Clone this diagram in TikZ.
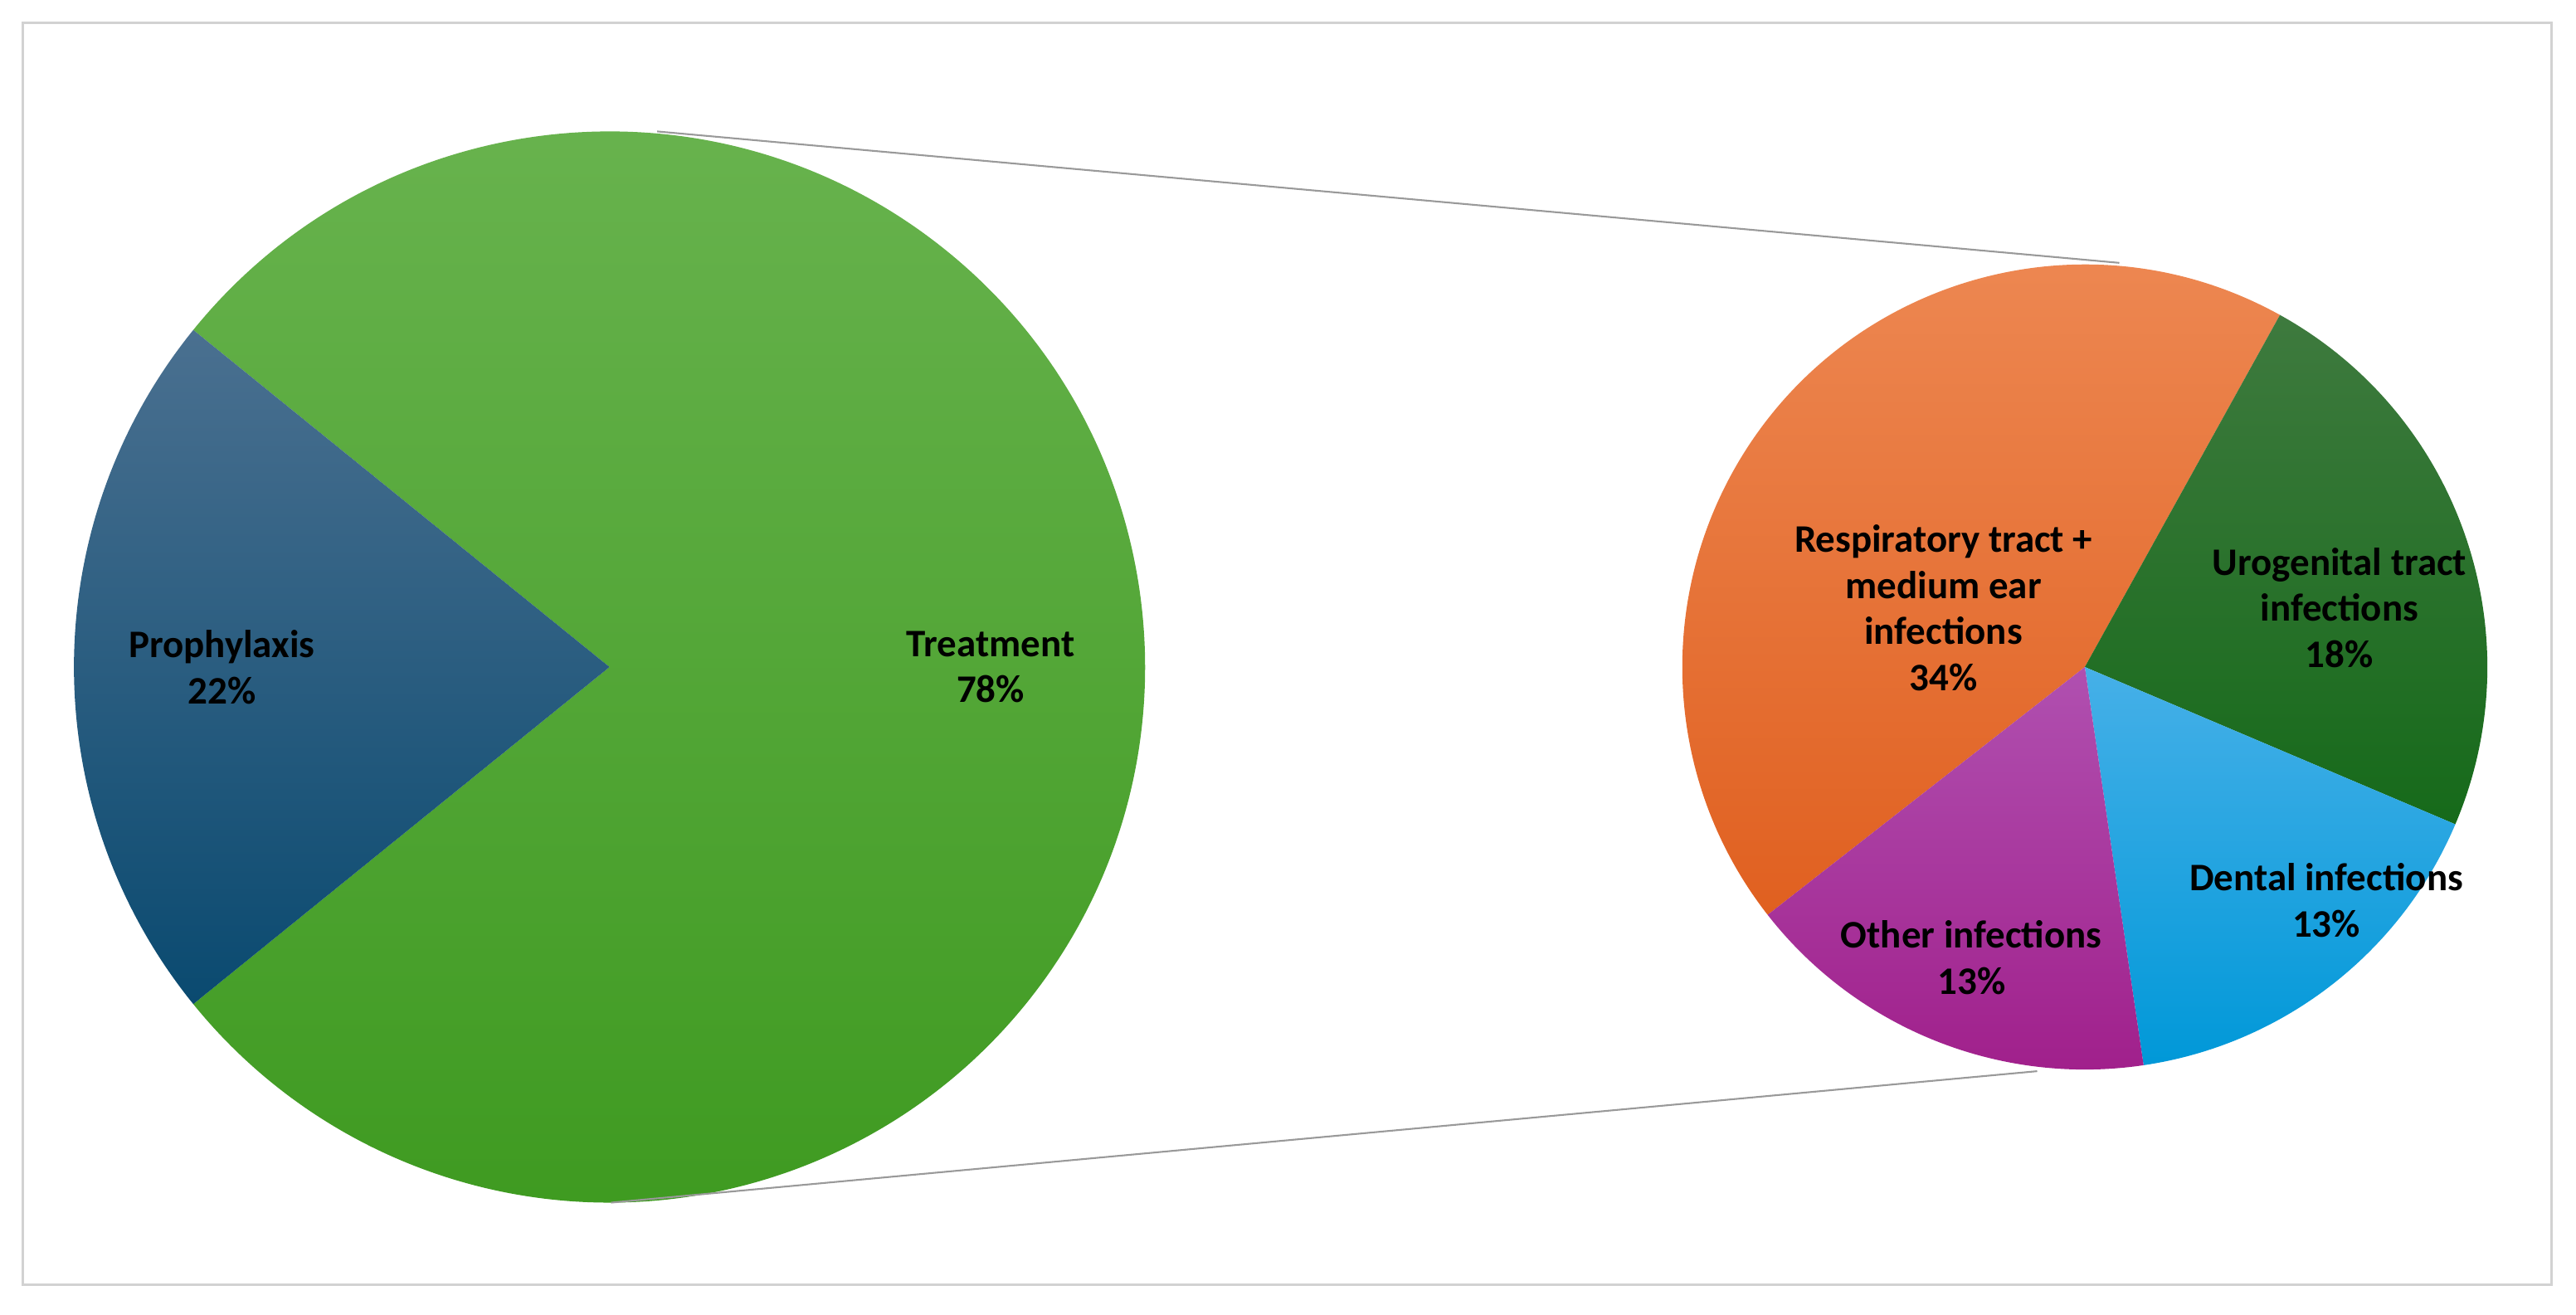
\documentclass[tikz,border=0pt]{standalone}
\usepackage{fontspec}
\setmainfont{Carlito}
\begin{document}
\begin{tikzpicture}[x=0.02cm,y=-0.02cm,
  lbl/.style={font=\fontsize{13.5}{16}\selectfont\bfseries,align=center,text=black},
  conn/.style={draw=gray!80,line width=0.6pt}]
\useasboundingbox (0,0) rectangle (1568,800);
\draw[draw=gray!35,line width=0.8pt] (14,14) rectangle (1553,782);
% left pie
\coordinate (lc) at (371,406);
\shade[top color={rgb,255:red,106;green,180;blue,80}, bottom color={rgb,255:red,62;green,154;blue,32}]
  (lc) -- ++(-141:326) arc[start angle=-141,end angle=141,radius=326] -- cycle;
\shade[top color={rgb,255:red,74;green,112;blue,144}, bottom color={rgb,255:red,10;green,74;blue,112}]
  (lc) -- ++(-141:326) arc[start angle=-141,end angle=-219,radius=326] -- cycle;
\node[lbl] (pro) at (135,406) {Prophylaxis\\22\%};
\node[lbl] (tre) at (603,406) {Treatment\\78\%};
% right pie
\coordinate (rc) at (1269,406);
\def\R{245}
\shade[top color={rgb,255:red,238;green,138;blue,85}, bottom color={rgb,255:red,224;green,96;blue,32}]
  (rc) -- ++(-61:\R) arc[start angle=-61,end angle=-218,radius=\R] -- cycle;
\shade[top color={rgb,255:red,62;green,122;blue,62}, bottom color={rgb,255:red,22;green,106;blue,26}]
  (rc) -- ++(-61:\R) arc[start angle=-61,end angle=23,radius=\R] -- cycle;
\shade[top color={rgb,255:red,70;green,176;blue,232}, bottom color={rgb,255:red,0;green,152;blue,216}]
  (rc) -- ++(23:\R) arc[start angle=23,end angle=81.6,radius=\R] -- cycle;
\shade[top color={rgb,255:red,176;green,80;blue,176}, bottom color={rgb,255:red,160;green,30;blue,138}]
  (rc) -- ++(81.6:\R) arc[start angle=81.6,end angle=142,radius=\R] -- cycle;
\node[lbl] (resp) at (1183,370) {Respiratory tract +\\medium ear\\infections\\34\%};
\node[lbl] (uro) at (1424,370) {Urogenital tract\\infections\\18\%};
\node[lbl] (den) at (1416,548) {Dental infections\\13\%};
\node[lbl] (oth) at (1200,583) {Other infections\\13\%};
% connectors
\coordinate (a1) at (400,80); \coordinate (a2) at (1290,160);
\coordinate (b1) at (372,732); \coordinate (b2) at (1240,652);
\draw[conn] (a1) -- (a2);
\draw[conn] (b1) -- (b2);
\end{tikzpicture}
\end{document}
